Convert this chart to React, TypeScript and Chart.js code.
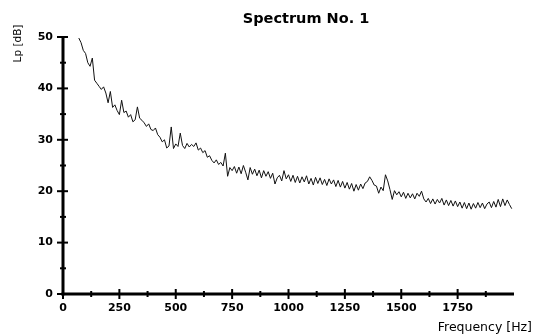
import React, { useEffect, useRef } from "react";
import { Chart, registerables } from "chart.js";

Chart.register(...registerables);

const chartTitle = "Spectrum No. 1";
const xAxisTitle = "Frequency [Hz]";
const yAxisTitle = "Lp [dB]";

// sampling grid of the spectrum (Hz)
const freqStart = 70;
const freqStep = 10;

// sound pressure level (dB), one value per 10 Hz from 70 Hz to 1990 Hz
const levels = [
  49.8, 48.9, 47.4, 46.8, 45.0, 44.3, 45.9, 41.6, 41.0, 40.4,
  39.8, 40.3, 39.1, 37.2, 39.4, 36.3, 36.8, 35.7, 34.9, 37.7,
  35.3, 35.6, 34.4, 34.9, 33.5, 33.9, 36.4, 34.2, 33.8, 33.3,
  32.6, 33.1, 32.0, 31.8, 32.3, 31.0, 30.5, 29.6, 30.0, 28.4,
  28.8, 32.5, 28.3, 29.2, 28.7, 31.3, 28.9, 28.3, 29.3, 28.6,
  29.1, 28.7, 29.4, 28.0, 28.4, 27.5, 27.9, 26.6, 26.9, 26.0,
  25.5, 26.1, 25.2, 25.6, 24.9, 27.4, 22.9, 24.6, 24.0, 24.8,
  23.5, 24.7, 23.4, 25.0, 23.7, 22.2, 24.6, 23.3, 24.3, 23.0,
  24.1, 22.6, 24.0, 22.9, 23.8, 22.5, 23.5, 21.4, 22.6, 23.1,
  22.0, 24.0, 22.4, 23.2, 21.9, 23.1, 21.7, 22.9, 21.6, 22.8,
  21.8, 23.0, 21.4, 22.5, 21.2, 22.7, 21.5, 22.6, 21.3, 22.3,
  21.1, 22.4, 21.4, 22.2, 20.9, 22.1, 20.8, 21.9, 20.6, 21.7,
  20.4, 21.5, 20.0, 21.3, 20.2, 21.4, 20.5, 21.6, 21.9, 22.8,
  22.1, 21.2, 21.0, 19.6, 20.8, 20.1, 23.2, 22.0, 20.3, 18.4,
  20.1, 19.3, 19.9, 18.9, 19.8, 18.6, 19.6, 18.7, 19.5, 18.5,
  19.6, 19.0, 20.0, 18.5, 17.9, 18.6, 17.6, 18.5, 17.5, 18.4,
  17.7, 18.6, 17.3, 18.3, 17.2, 18.2, 17.1, 18.1, 17.0, 17.9,
  16.7, 17.8, 16.6, 17.7, 16.5, 17.6, 16.7, 17.8, 16.8, 17.7,
  16.6, 17.5, 17.9, 16.8, 18.0, 16.9, 18.4, 17.0, 18.5, 17.2,
  18.3, 17.4, 16.6,
];

const xMin = 0;
const xMax = 2000;
const yMin = 0;
const yMax = 50;
const xMajorTicks = [0, 250, 500, 750, 1000, 1250, 1500, 1750];
const xMinorTicks = [125, 375, 625, 875, 1125, 1375, 1625, 1875];
const yMajorTicks = [0, 10, 20, 30, 40, 50];
const yMinorTicks = [5, 15, 25, 35, 45];

const FONT = "'DejaVu Sans', 'Liberation Sans', Arial, sans-serif";

const axesPlugin = {
  id: "customAxes",
  afterDraw(chart: any) {
    const { ctx } = chart;
    const xs = chart.scales.x;
    const ys = chart.scales.y;
    const x0 = xs.getPixelForValue(xMin);
    const x1 = xs.getPixelForValue(xMax);
    const y0 = ys.getPixelForValue(yMin);
    const y1 = ys.getPixelForValue(yMax);
    ctx.save();
    ctx.strokeStyle = "#000";
    ctx.lineCap = "butt";
    ctx.lineWidth = 3;
    ctx.beginPath();
    ctx.moveTo(x0, y0 + 1.5);
    ctx.lineTo(x0, y1);
    ctx.stroke();
    ctx.beginPath();
    ctx.moveTo(x0 - 1.5, y0);
    ctx.lineTo(x1, y0);
    ctx.stroke();

    ctx.lineWidth = 2;
    yMajorTicks.forEach((v) => {
      const p = ys.getPixelForValue(v);
      ctx.beginPath();
      ctx.moveTo(x0 - 6, p);
      ctx.lineTo(x0 + 5, p);
      ctx.stroke();
    });
    yMinorTicks.forEach((v) => {
      const p = ys.getPixelForValue(v);
      ctx.beginPath();
      ctx.moveTo(x0 - 3, p);
      ctx.lineTo(x0 + 3, p);
      ctx.stroke();
    });
    xMajorTicks.forEach((v) => {
      const p = xs.getPixelForValue(v);
      ctx.beginPath();
      ctx.moveTo(p, y0 - 5);
      ctx.lineTo(p, y0 + 5);
      ctx.stroke();
    });
    xMinorTicks.forEach((v) => {
      const p = xs.getPixelForValue(v);
      ctx.beginPath();
      ctx.moveTo(p, y0 - 3);
      ctx.lineTo(p, y0 + 3);
      ctx.stroke();
    });

    ctx.fillStyle = "#000";
    ctx.font = `bold 14.5px ${FONT}`;
    ctx.textAlign = "center";
    ctx.textBaseline = "alphabetic";
    ctx.fillText(chartTitle, 306, 23);

    ctx.font = `12.5px ${FONT}`;
    ctx.textAlign = "right";
    ctx.fillText(xAxisTitle, 532, 331);

    ctx.save();
    ctx.translate(18, 43.5);
    ctx.rotate(-Math.PI / 2);
    ctx.font = `10.5px ${FONT}`;
    ctx.textAlign = "center";
    ctx.textBaseline = "middle";
    ctx.fillText(yAxisTitle, 0, 0);
    ctx.restore();

    ctx.restore();
  },
};

export default function App() {
  const canvasRef = useRef<HTMLCanvasElement | null>(null);

  useEffect(() => {
    const canvas = canvasRef.current;
    if (!canvas) return;
    const points = levels.map((v, i) => ({ x: freqStart + i * freqStep, y: v }));
    const chart = new Chart(canvas, {
      type: "line",
      data: {
        datasets: [
          {
            data: points,
            borderColor: "#111",
            borderWidth: 1,
            pointRadius: 0,
            tension: 0,
            fill: false,
            clip: false as any,
          },
        ],
      },
      options: {
        responsive: false,
        animation: false,
        devicePixelRatio: 1,
        layout: { padding: { top: 37, right: 19, left: 0, bottom: 0 } },
        plugins: {
          legend: { display: false },
          title: { display: false },
          tooltip: { enabled: false },
        },
        scales: {
          x: {
            type: "linear",
            min: xMin,
            max: xMax,
            grid: { display: false, drawTicks: false },
            border: { display: false },
            afterBuildTicks: (s: any) => {
              s.ticks = xMajorTicks.map((v) => ({ value: v }));
            },
            afterFit: (s: any) => {
              s.height = 41;
            },
            ticks: {
              autoSkip: false,
              maxRotation: 0,
              padding: 8,
              color: "#000",
              font: { family: FONT, size: 11, weight: "bold" },
              callback: (v: any) => String(v),
            },
          },
          y: {
            type: "linear",
            min: yMin,
            max: yMax,
            grid: { display: false, drawTicks: false },
            border: { display: false },
            afterBuildTicks: (s: any) => {
              s.ticks = yMajorTicks.map((v) => ({ value: v }));
            },
            afterFit: (s: any) => {
              s.width = 63;
            },
            ticks: {
              autoSkip: false,
              padding: 10,
              color: "#000",
              font: { family: FONT, size: 11, weight: "bold" },
              callback: (v: any) => String(v),
            },
          },
        },
      },
      plugins: [axesPlugin],
    });
    return () => chart.destroy();
  }, []);

  return (
    <div style={{ position: "fixed", left: 0, top: 0, width: 533, height: 335, background: "#fff" }}>
      <canvas ref={canvasRef} width={533} height={335} style={{ display: "block" }} />
    </div>
  );
}
